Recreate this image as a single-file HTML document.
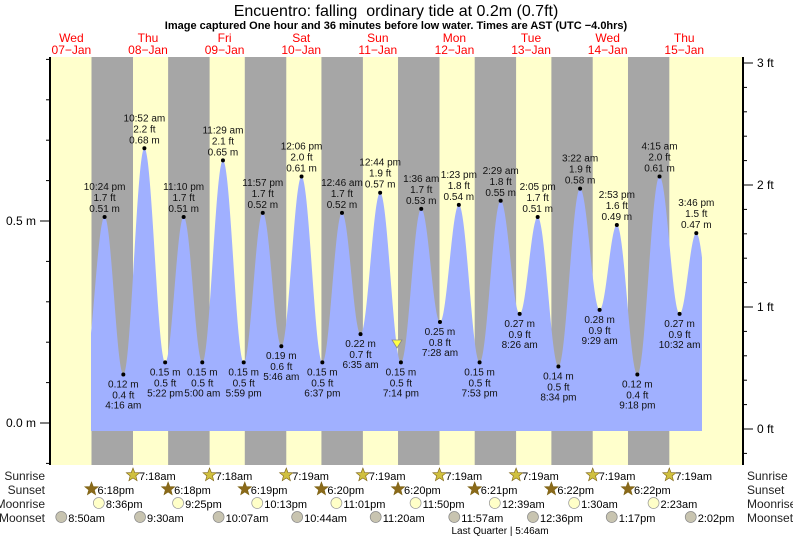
<!DOCTYPE html>
<html><head><meta charset="utf-8"><style>
html,body{margin:0;padding:0;background:#fff;}
svg{display:block;font-family:"Liberation Sans",sans-serif;}
</style></head><body>
<svg id="s" width="793" height="539" xmlns="http://www.w3.org/2000/svg"></svg>
<script>
const S=document.getElementById('s');
let h='';
const X=t=>109.7+3.192*t, Y=m=>423-404*m;
h+=`<rect x="50" y="57" width="693" height="408" fill="#ffffcc"/>`;
const sr=[7.3,7.3,7.32,7.32,7.32,7.32,7.32,7.32], ss=[18.3,18.3,18.32,18.33,18.33,18.35,18.37,18.37];
for(let d=0;d<8;d++){let a=X((d-1)*24+ss[d]),b=X(d*24+sr[d]);h+=`<rect x="${a}" y="57" width="${b-a}" height="408" fill="#a6a6a6"/>`;}
const T=[[-7.8,0.14],[-1.6,.51],[4.27,.12],[10.87,.68],[17.37,.15],[23.17,.51],[29,.15],[35.48,.65],[41.98,.15],[47.95,.52],[53.77,.19],[60.1,.61],[66.62,.15],[72.77,.52],[78.58,.22],[84.73,.57],[91.23,.15],[97.6,.53],[103.47,.25],[109.38,.54],[115.88,.15],[122.48,.55],[128.43,.27],[134.08,.51],[140.57,.14],[147.37,.58],[153.48,.28],[158.88,.49],[165.3,.12],[172.25,.61],[178.53,.27],[183.77,.47],[190,.15]];
function lvl(t){for(let i=0;i<T.length-1;i++){if(t>=T[i][0]&&t<=T[i+1][0]){const[a,m0]=T[i],[b,m1]=T[i+1];const f=(t-a)/(b-a);return m0+(m1-m0)*(1-Math.cos(Math.PI*f))/2;}}return 0;}
let p=`M91,431`;for(let x=91;x<=702;x+=0.5){p+=` L${x},${Y(lvl((x-109.7)/3.192)).toFixed(1)}`;}p+=` L702,431 Z`;
h+=`<path d="${p}" fill="#a0b0ff"/>`;
const lab=[["10:24 pm","1.7 ft"],["4:16 am","0.4 ft"],["10:52 am","2.2 ft"],["5:22 pm","0.5 ft"],["11:10 pm","1.7 ft"],["5:00 am","0.5 ft"],["11:29 am","2.1 ft"],["5:59 pm","0.5 ft"],["11:57 pm","1.7 ft"],["5:46 am","0.6 ft"],["12:06 pm","2.0 ft"],["6:37 pm","0.5 ft"],["12:46 am","1.7 ft"],["6:35 am","0.7 ft"],["12:44 pm","1.9 ft"],["7:14 pm","0.5 ft"],["1:36 am","1.7 ft"],["7:28 am","0.8 ft"],["1:23 pm","1.8 ft"],["7:53 pm","0.5 ft"],["2:29 am","1.8 ft"],["8:26 am","0.9 ft"],["2:05 pm","1.7 ft"],["8:34 pm","0.5 ft"],["3:22 am","1.9 ft"],["9:29 am","0.9 ft"],["2:53 pm","1.6 ft"],["9:18 pm","0.4 ft"],["4:15 am","2.0 ft"],["10:32 am","0.9 ft"],["3:46 pm","1.5 ft"]];
for(let i=1;i<T.length-1;i++){const x=X(T[i][0]),y=Y(T[i][1]),l=lab[i-1],m=T[i][1].toFixed(2)+" m";const hi=i%2==1;
h+=`<circle cx="${x}" cy="${y}" r="2" fill="#000"/>`;
const st=`font-size="10" text-anchor="middle" fill="#111"`;
if(hi){h+=`<text x="${x}" y="${y-27}" ${st}>${l[0]}</text><text x="${x}" y="${y-16}" ${st}>${l[1]}</text><text x="${x}" y="${y-5}" ${st}>${m}</text>`;}
else{h+=`<text x="${x}" y="${y+13}" ${st}>${m}</text><text x="${x}" y="${y+24}" ${st}>${l[1]}</text><text x="${x}" y="${y+34}" ${st}>${l[0]}</text>`;}}
h+=`<polygon points="392,340 402,340 397,348" fill="#ffff44" stroke="#888" stroke-width="0.8"/>`;
h+=`<line x1="50" y1="57" x2="50" y2="465" stroke="#000" stroke-width="2"/><line x1="743" y1="57" x2="743" y2="465" stroke="#000" stroke-width="2"/>`;
for(let i=-1;i<=9;i++){const y=Y(i/10);const L=(i==0||i==5)?10:4;h+=`<line x1="${50-L}" y1="${y}" x2="50" y2="${y}" stroke="#000"/>`;}
h+=`<text x="36" y="225" font-size="12" text-anchor="end">0.5 m</text><text x="36" y="427" font-size="12" text-anchor="end">0.0 m</text>`;
for(let i=-1;i<=16;i++){const y=429-122*i/5;if(y<57)continue;const L=(i%5==0)?10:4;h+=`<line x1="743" y1="${y}" x2="${743+L}" y2="${y}" stroke="#000"/>`;}
[0,1,2,3].forEach(f=>h+=`<text x="757" y="${433-122*f}" font-size="12">${f} ft</text>`);
h+=`<text x="396" y="16" font-size="16" text-anchor="middle">Encuentro: falling&#160; ordinary tide at 0.2m (0.7ft)</text>`;
h+=`<text x="396" y="29" font-size="11" font-weight="bold" text-anchor="middle">Image captured One hour and 36 minutes before low water. Times are AST (UTC −4.0hrs)</text>`;
const dn=["Wed","Thu","Fri","Sat","Sun","Mon","Tue","Wed","Thu"];
for(let d=0;d<9;d++){const x=X((d-1)*24+12);h+=`<text x="${x}" y="42" font-size="12" fill="#f00" text-anchor="middle">${dn[d]}</text><text x="${x}" y="54" font-size="12" fill="#f00" text-anchor="middle">${String(d+7).padStart(2,'0')}−Jan</text>`;}
const rows=[["Sunrise",480],["Sunset",494],["Moonrise",508],["Moonset",522]];
rows.forEach(r=>{h+=`<text x="45" y="${r[1]}" font-size="12" text-anchor="end" fill="#222">${r[0]}</text><text x="747" y="${r[1]}" font-size="12" fill="#222">${r[0]}</text>`;});
function star(x,y,c){let pts=[];for(let k=0;k<10;k++){const r=k%2?3:7,a=-Math.PI/2+k*Math.PI/5;pts.push((x+r*Math.cos(a)).toFixed(1)+","+(y+r*Math.sin(a)).toFixed(1));}return `<polygon points="${pts.join(' ')}" fill="${c}" stroke="#7a6010" stroke-width="0.6"/>`;}
const srt=["7:18am","7:18am","7:19am","7:19am","7:19am","7:19am","7:19am","7:19am"];
for(let d=0;d<8;d++){const x=X(d*24+sr[d]);h+=star(x,475,"#d0c040")+`<text x="${x+6}" y="480" font-size="11">${srt[d]}</text>`;}
const sst=["6:18pm","6:18pm","6:19pm","6:20pm","6:20pm","6:21pm","6:22pm","6:22pm"];
for(let d=0;d<8;d++){const x=X((d-1)*24+ss[d]);h+=star(x,489,"#8b6a1a")+`<text x="${x+6}" y="494" font-size="11">${sst[d]}</text>`;}
const mr=[[-3.4,"8:36pm"],[21.42,"9:25pm"],[46.22,"10:13pm"],[71.02,"11:01pm"],[95.83,"11:50pm"],[120.65,"12:39am"],[145.5,"1:30am"],[170.38,"2:23am"]];
mr.forEach(m=>{const x=X(m[0]);h+=`<circle cx="${x}" cy="503" r="5.5" fill="#ffffc8" stroke="#999" stroke-width="0.7"/><text x="${x+7}" y="508" font-size="11">${m[1]}</text>`;});
const ms=[[-15.17,"8:50am"],[9.5,"9:30am"],[34.12,"10:07am"],[58.73,"10:44am"],[83.33,"11:20am"],[107.95,"11:57am"],[132.6,"12:36pm"],[157.28,"1:17pm"],[182.03,"2:02pm"]];
ms.forEach(m=>{const x=X(m[0]);h+=`<circle cx="${x}" cy="517" r="5.5" fill="#c8c4b0" stroke="#888" stroke-width="0.7"/><text x="${x+7}" y="522" font-size="11">${m[1]}</text>`;});
h+=`<text x="500" y="534" font-size="10" text-anchor="middle">Last Quarter | 5:46am</text>`;
S.innerHTML=h;
</script>
</body></html>
